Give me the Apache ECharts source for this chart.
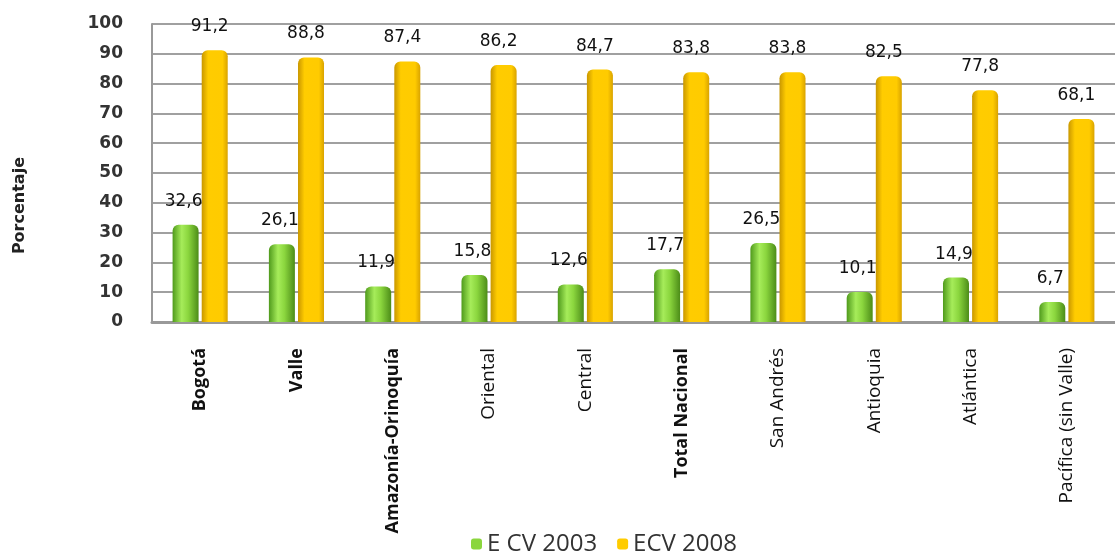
<!DOCTYPE html>
<html><head><meta charset="utf-8">
<script src="https://cdn.jsdelivr.net/npm/echarts@6/dist/echarts.min.js"></script>
<style>html,body{margin:0;padding:0;background:#fff}#c{width:1115px;height:551px}</style>
</head><body><div id="c"></div>
<script>
const categories = ["Bogotá","Valle","Amazonía-Orinoquía","Oriental","Central","Total Nacional","San Andrés","Antioquia","Atlántica","Pacífica (sin Valle)"];
const ecv2003 = [32.6, 26.1, 11.9, 15.8, 12.6, 17.7, 26.5, 10.1, 14.9, 6.7];
const ecv2008 = [91.2, 88.8, 87.4, 86.2, 84.7, 83.8, 83.8, 82.5, 77.8, 68.1];
const seriesNames = ["E CV 2003", "ECV 2008"];
const boldCats = ["Bogotá","Valle","Amazonía-Orinoquía","Total Nacional"];

const chart = echarts.init(document.getElementById('c'));
const fmt = p => String(p.value).replace('.', ',');
const greenGrad = new echarts.graphic.LinearGradient(0,0,1,0,[
  {offset:0,color:'#4f9a1c'},{offset:0.35,color:'#a6ec5a'},{offset:0.6,color:'#8bd63e'},{offset:1,color:'#4c8c18'}]);
const yellowGrad = new echarts.graphic.LinearGradient(0,0,1,0,[
  {offset:0,color:'#c99700'},{offset:0.25,color:'#ffcc00'},{offset:0.8,color:'#ffcb00'},{offset:1,color:'#d9a300'}]);
chart.setOption({
  animation:false,
  grid:{left:152, top:24, width:966, bottom:229, show:false},
  legend:{top:527, left:466, itemWidth:11, itemHeight:11, itemGap:20,
    textStyle:{fontFamily:'Open Sans', fontSize:24, color:'#333'},
    data:[{name:seriesNames[0], itemStyle:{color:'#8bd63e'}},{name:seriesNames[1], itemStyle:{color:'#ffcc00'}}]},
  graphic:[{type:'text', left:12, top:157, rotation:Math.PI/2,
    style:{text:'Porcentaje', font:'bold 16px "DejaVu Sans"', fill:'#222'}}],
  xAxis:{type:'category', data:categories,
    axisLine:{lineStyle:{color:'#999', width:3}}, axisTick:{show:false},
    axisLabel:{rotate:90, margin:26, interval:0,
      formatter:v => boldCats.includes(v) ? '{b|'+v+'}' : '{n|'+v+'}',
      rich:{b:{fontFamily:'Open Sans', fontSize:18, fontWeight:'bold', color:'#111'},
            n:{fontFamily:'Open Sans', fontSize:19, color:'#111'}}}},
  yAxis:{type:'value', min:0, max:100, interval:10,
    axisLine:{show:true, lineStyle:{color:'#999', width:2}}, axisTick:{show:false},
    axisLabel:{fontFamily:'DejaVu Sans', fontWeight:'bold', fontSize:17, color:'#333', margin:29},
    splitLine:{lineStyle:{color:'#a0a0a0', width:2}}},
  series:[
    {name:seriesNames[0], type:'bar', data:ecv2003, barWidth:26, barGap:'12%',
     itemStyle:{color:greenGrad, borderRadius:[6,6,0,0]},
     label:{show:true, position:'top', distance:15, offset:[-2,0], formatter:fmt,
       fontFamily:'DejaVu Sans', fontSize:17, color:'#111'}},
    {name:seriesNames[1], type:'bar', data:ecv2008, barWidth:26,
     itemStyle:{color:yellowGrad, borderRadius:[6,6,0,0]},
     label:{show:true, position:'top', distance:15, offset:[-5,0], formatter:fmt,
       fontFamily:'DejaVu Sans', fontSize:17, color:'#111'}}
  ]
});
</script></body></html>
